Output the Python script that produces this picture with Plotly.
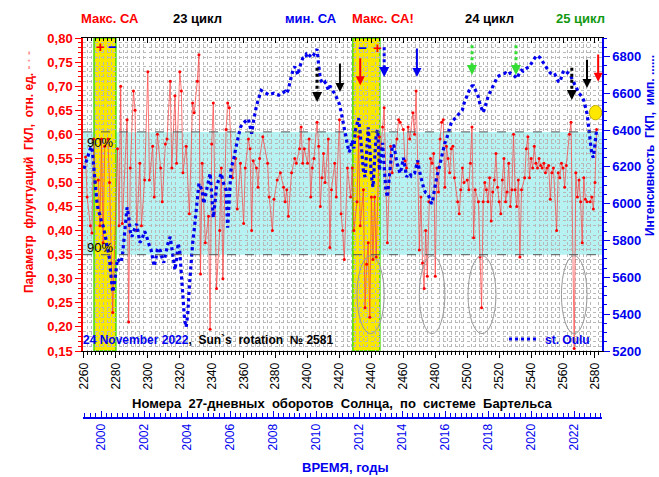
import plotly.graph_objects as go

# --- data ---
rot_red = [2261, 2262, 2264, 2265, 2266, 2267, 2269, 2270, 2271, 2272, 2273, 2275, 2276, 2277, 2278,
           2281, 2282, 2283, 2284, 2287, 2288, 2289, 2291, 2292, 2293, 2295, 2296, 2298, 2300, 2301,
           2303, 2304, 2306, 2308, 2309, 2311, 2312, 2314, 2315, 2317, 2318, 2320, 2321, 2322, 2324,
           2326, 2328, 2329, 2331, 2332, 2333, 2334, 2336, 2338, 2339, 2340, 2341, 2343, 2345, 2346,
           2347, 2349, 2350, 2351, 2353, 2355, 2356, 2358, 2360, 2361, 2363, 2364, 2365, 2366, 2368,
           2369, 2370, 2372, 2375, 2376, 2378, 2379, 2381, 2383, 2385, 2386, 2387, 2388, 2390, 2392,
           2393, 2395, 2396, 2397, 2398, 2400, 2401, 2402, 2403, 2404, 2406, 2407, 2408, 2409, 2410,
           2411, 2413, 2414, 2415, 2417, 2418, 2420, 2421, 2422, 2423, 2425, 2427, 2428, 2429, 2431,
           2432, 2433, 2435, 2436, 2437, 2438, 2439, 2440, 2441, 2442, 2443, 2445, 2446, 2447, 2448,
           2450, 2452, 2453, 2456, 2457, 2458, 2460, 2461, 2462, 2463, 2464, 2466, 2467, 2468, 2469,
           2470, 2471, 2472, 2473, 2474, 2475, 2476, 2477, 2478, 2479, 2480, 2481, 2482, 2483, 2484,
           2485, 2486, 2487, 2488, 2489, 2490, 2491, 2492, 2494, 2495, 2496, 2497, 2498, 2500, 2501,
           2502, 2503, 2504, 2505, 2507, 2508, 2509, 2510, 2511, 2512, 2513, 2514, 2515, 2516, 2517,
           2518, 2519, 2520, 2521, 2522, 2523, 2524, 2525, 2526, 2527, 2528, 2529, 2530, 2531, 2532,
           2533, 2534, 2536, 2537, 2538, 2539, 2540, 2541, 2542, 2543, 2544, 2545, 2546, 2547, 2548,
           2549, 2550, 2551, 2552, 2553, 2554, 2556, 2557, 2558, 2559, 2560, 2561, 2562, 2564, 2565,
           2567, 2568, 2569, 2570, 2571, 2572, 2573, 2574, 2575, 2577, 2578, 2579, 2580, 2581]
gkl = [0.553, 0.47, 0.41, 0.395, 0.59, 0.50, 0.505, 0.41, 0.59, 0.375, 0.575, 0.59, 0.50, 0.333, 0.23,
       0.57, 0.41, 0.70, 0.415, 0.63, 0.21, 0.53, 0.69, 0.65, 0.40, 0.54, 0.41, 0.505, 0.73, 0.505,
       0.575, 0.47, 0.60, 0.53, 0.46, 0.58, 0.59, 0.71, 0.53, 0.68, 0.54, 0.73, 0.69, 0.52, 0.575,
       0.435, 0.665, 0.645, 0.71, 0.765, 0.31, 0.54, 0.375, 0.43, 0.195, 0.58, 0.665, 0.28, 0.40, 0.53,
       0.30, 0.61, 0.665, 0.655, 0.51, 0.55, 0.445, 0.54, 0.415, 0.53, 0.59, 0.57, 0.40, 0.545, 0.53,
       0.49, 0.55, 0.595, 0.54, 0.47, 0.40, 0.465, 0.505, 0.52, 0.49, 0.46, 0.485, 0.43, 0.52, 0.55,
       0.54, 0.57, 0.615, 0.54, 0.57, 0.54, 0.59, 0.47, 0.53, 0.55, 0.625, 0.575, 0.45, 0.51, 0.56,
       0.50, 0.59, 0.365, 0.485, 0.54, 0.47, 0.63, 0.435, 0.40, 0.34, 0.53, 0.47, 0.53, 0.40, 0.46,
       0.595, 0.41, 0.485, 0.24, 0.33, 0.375, 0.22, 0.47, 0.34, 0.47, 0.345, 0.595, 0.57, 0.615, 0.655,
       0.375, 0.575, 0.52, 0.59, 0.63, 0.625, 0.61, 0.545, 0.53, 0.615, 0.59, 0.645, 0.60, 0.69, 0.54,
       0.36, 0.47, 0.333, 0.28, 0.40, 0.305, 0.46, 0.55, 0.54, 0.56, 0.305, 0.53, 0.48, 0.59, 0.625,
       0.63, 0.49, 0.575, 0.55, 0.52, 0.57, 0.575, 0.51, 0.46, 0.435, 0.485, 0.53, 0.50, 0.505, 0.485,
       0.54, 0.615, 0.385, 0.485, 0.46, 0.345, 0.24, 0.46, 0.50, 0.485, 0.46, 0.51, 0.42, 0.48, 0.505,
       0.56, 0.49, 0.46, 0.435, 0.505, 0.55, 0.46, 0.48, 0.54, 0.45, 0.485, 0.60, 0.485, 0.45, 0.505,
       0.345, 0.485, 0.51, 0.57, 0.595, 0.51, 0.55, 0.53, 0.575, 0.54, 0.53, 0.55, 0.535, 0.53, 0.54,
       0.52, 0.53, 0.535, 0.465, 0.52, 0.53, 0.40, 0.52, 0.51, 0.54, 0.53, 0.49, 0.535, 0.60, 0.625,
       0.155, 0.52, 0.47, 0.505, 0.46, 0.375, 0.51, 0.465, 0.46, 0.46, 0.47, 0.445, 0.50, 0.61]

rot_oulu = list(range(2260, 2582))
oulu = [6190, 6220, 6250, 6280, 6300, 6310, 6200, 6080, 6020, 5960,
        5940, 5900, 5880, 5840, 5800, 5760, 5700, 5600, 5520, 5560,
        5640, 5700, 5690, 5680, 5710, 5800, 5900, 5980, 5930, 5850,
        5820, 5850, 5870, 5890, 5840, 5790, 5800, 5820, 5850, 5830,
        5790, 5770, 5750, 5700, 5660, 5700, 5750, 5760, 5740, 5700,
        5680, 5720, 5765, 5800, 5820, 5760, 5680, 5640, 5700, 5785,
        5740, 5600, 5450, 5370, 5330, 5400, 5550, 5680, 5780, 5855,
        5950, 6060, 6110, 6090, 6075, 6000, 6040, 6090, 6130, 6165,
        6050, 5925, 6000, 6090, 6120, 6145, 6165, 6120, 6090, 6075,
        5870, 6000, 6180, 6220, 6250, 6300, 6345, 6380, 6415, 6430,
        6440, 6450, 6455, 6460, 6420, 6380, 6440, 6490, 6530, 6560,
        6590, 6615, 6610, 6605, 6600, 6595, 6590, 6595, 6600, 6600,
        6595, 6590, 6590, 6600, 6600, 6605, 6610, 6600, 6620, 6660,
        6700, 6730, 6745, 6720, 6700, 6740, 6770, 6790, 6800, 6810,
        6790, 6800, 6815, 6820, 6810, 6830, 6840, 6750, 6680, 6660,
        6650, 6660, 6640, 6620, 6640, 6620, 6610, 6600, 6580, 6560,
        6540, 6500, 6450, 6400, 6350, 6320, 6280, 6300, 6345, 6300,
        6400, 6440, 6465, 6380, 6260, 6180, 6145, 6300, 6415, 6300,
        6150, 6090, 6250, 6380, 6400, 6180, 6250, 6330, 6200, 6080,
        6035, 6140, 6200, 6305, 6320, 6260, 6220, 6190, 6165, 6200,
        6250, 6200, 6145, 6160, 6165, 6150, 6160, 6165, 6200, 6235,
        6180, 6145, 6110, 6075, 6060, 6055, 6040, 6010, 6000, 6050,
        6110, 6150, 6180, 6220, 6260, 6290, 6330, 6350, 6380, 6420,
        6440, 6450, 6460, 6470, 6480, 6490, 6500, 6510, 6545, 6570,
        6590, 6610, 6630, 6640, 6640, 6620, 6600, 6580, 6540, 6510,
        6495, 6520, 6560, 6580, 6600, 6620, 6630, 6650, 6670, 6690,
        6695, 6700, 6700, 6705, 6710, 6700, 6705, 6710, 6705, 6700,
        6690, 6680, 6700, 6715, 6725, 6720, 6730, 6735, 6740, 6745,
        6760, 6775, 6790, 6800, 6805, 6800, 6790, 6775, 6760, 6745,
        6730, 6720, 6710, 6700, 6695, 6700, 6680, 6665, 6660, 6690,
        6715, 6725, 6720, 6710, 6700, 6690, 6670, 6650, 6630, 6610,
        6600, 6590, 6580, 6560, 6530, 6490, 6420, 6330, 6270, 6250,
        6330, 6400]

FONT = "Liberation Sans, Arial, sans-serif"
RED, BLUE, GREEN = "#ff0000", "#0000ee", "#119911"

# paper area in pixels (plot area + the extra years axis below)
L, R, T, B = 83, 602, 38, 418
def px(X): return (X - L) / (R - L)
def py(Y): return (B - Y) / (B - T)

fig = go.Figure()
fig.add_trace(go.Scatter(x=rot_red, y=gkl, mode='lines+markers',
                         line=dict(color='rgba(255,60,60,0.7)', width=1),
                         marker=dict(color=RED, size=3), showlegend=False, hoverinfo='skip'))
fig.add_trace(go.Scatter(x=rot_oulu, y=oulu, yaxis='y2', mode='lines',
                         line=dict(color=BLUE, width=3.2, dash='dot'), showlegend=False))
# dummy traces so the extra axes are drawn
fig.add_trace(go.Scatter(x=[2000], y=[None], xaxis='x2', showlegend=False, hoverinfo='skip'))
fig.add_trace(go.Scatter(x=[2300], y=[None], xaxis='x3', showlegend=False, hoverinfo='skip'))

shapes = []
# 90% band
shapes.append(dict(type='rect', xref='x domain', yref='y', x0=0, x1=1, y0=0.35, y1=0.605,
                   fillcolor='#b6f2f2', line_width=0, layer='below'))
# solar maxima bands
for a, b in [(2266.3, 2280.0), (2428.4, 2445.3)]:
    shapes.append(dict(type='rect', xref='x', yref='y domain', x0=a, x1=b, y0=0, y1=1,
                       fillcolor='#f8e800', line=dict(color='#44dd00', width=1.5), layer='below'))
for v in (0.605, 0.35):
    shapes.append(dict(type='line', xref='x domain', yref='y', x0=0, x1=1, y0=v, y1=v,
                       line=dict(color='#555555', width=1, dash='dash')))
# ellipses
for a, b in [(2431, 2448), (2470, 2486), (2500.5, 2518), (2559, 2575)]:
    shapes.append(dict(type='circle', xref='x', yref='y', x0=a, x1=b, y0=0.186, y1=0.348,
                       line=dict(color='#999999', width=1)))
# yellow dot
shapes.append(dict(type='circle', xref='x', yref='y', x0=2576.5, x1=2584.2, y0=0.630, y1=0.660,
                   fillcolor='#ffe800', line=dict(color='#c8b000', width=1)))
# legend line for st. Oulu
shapes.append(dict(type='line', xref='paper', yref='paper', x0=px(509), x1=px(538), y0=py(339), y1=py(339),
                   line=dict(color=BLUE, width=3, dash='dot')))

annotations = []
# arrows: rotation, top value, tip value, colour, dotted?
arrows = [(2406, 0.738, 0.667, 'black', True), (2420.3, 0.750, 0.688, 'black', False),
          (2433, 0.761, 0.702, RED, False), (2448, 0.781, 0.719, BLUE, True),
          (2468.5, 0.781, 0.719, BLUE, False), (2503, 0.785, 0.723, '#33dd33', True),
          (2530.5, 0.785, 0.723, '#33dd33', True), (2565.5, 0.738, 0.671, 'black', True),
          (2575, 0.758, 0.696, 'black', False), (2582, 0.769, 0.709, RED, False)]
for xr, top, tip, col, dotted in arrows:
    if dotted:
        shapes.append(dict(type='line', xref='x', yref='y', x0=xr, x1=xr, y0=top, y1=tip + 0.01,
                           line=dict(color=col, width=3, dash='dot')))
        annotations.append(dict(x=xr, y=tip, xref='x', yref='y', ax=0, ay=-7, showarrow=True,
                                arrowhead=2, arrowsize=1.0, arrowwidth=2, arrowcolor=col, text=''))
    else:
        annotations.append(dict(x=xr, y=tip, xref='x', yref='y', ax=0, ay=-(top - tip) / 0.002075,
                                showarrow=True, arrowhead=2, arrowsize=0.9, arrowwidth=2,
                                arrowcolor=col, text=''))

def label(text, X, Y, color, size=13, bold=True, angle=0, xanchor='center'):
    t = f"<b>{text}</b>" if bold else text
    annotations.append(dict(text=t, x=px(X), y=py(Y), xref='paper', yref='paper', showarrow=False,
                            textangle=angle, xanchor=xanchor, yanchor='middle',
                            font=dict(family=FONT, size=size, color=color)))

label("Макс. СА", 110, 18, RED)
label("23 цикл", 197, 18, 'black')
label("мин. СА", 311, 18, BLUE)
label("Макс. СА!", 383, 18, RED)
label("24 цикл", 489, 18, 'black')
label("25 цикл", 580, 18, GREEN)
label("+", 100, 47, RED, size=15)
label("−", 112, 47, BLUE, size=15)
label("−", 362, 48, BLUE, size=15)
label("+", 377, 48, RED, size=15)
label("90%", 100, 142, 'black', size=13, bold=False)
label("90%", 100, 247, 'black', size=13, bold=False)
label("<span style='color:#0000ee'>24 November 2022</span>,  Sun`s  rotation  № 2581",
      81, 340, 'black', size=12, xanchor='left')
label("st. Oulu", 543, 340, BLUE, size=12, xanchor='left')
label("Параметр  флуктуаций  ГКЛ,  отн. ед. <span style='color:#ff9090'>- · -</span>",
      29, 172, RED, size=12, angle=-90)
label("Интенсивность  ГКП,  имп. ......", 650, 146, BLUE, size=12, angle=-90)
label("Номера  27-дневных  оборотов  Солнца,  по  системе  Бартельса", 342, 403, 'black', size=13)
label("ВРЕМЯ, годы", 345, 467, BLUE, size=13)

grid = dict(showgrid=True, gridcolor='#b8b8b8', griddash='dot', gridwidth=1)
fig.update_layout(
    width=659, height=477,
    margin=dict(l=L, r=659 - R, t=T, b=477 - B),
    paper_bgcolor='white', plot_bgcolor='white',
    separators=', ',
    font=dict(family=FONT, size=12, color='black'),
    shapes=shapes, annotations=annotations,
    xaxis=dict(range=[2259.4, 2584.4], tick0=2260, dtick=20, tickangle=-90,
               ticks='outside', ticklen=6, tickcolor='black', showline=True, linecolor='black',
               tickfont=dict(size=12, color='black'), showgrid=False, zeroline=False,
               minor=dict(dtick=2.5, ticks='outside', ticklen=3, tickcolor='black', **grid)),
    xaxis3=dict(overlaying='x', matches='x', side='top', anchor='y', showticklabels=False,
                ticks='inside', ticklen=5, tickcolor='black', showline=True, linecolor='black',
                showgrid=False, zeroline=False, tick0=2260, dtick=20,
                minor=dict(dtick=2.5, ticks='inside', ticklen=3, tickcolor='black')),
    xaxis2=dict(overlaying='x', anchor='free', position=0, side='bottom',
                range=[1999.16, 2023.3], tick0=2000, dtick=2, tickangle=-90,
                ticks='inside', ticklen=6, tickcolor=BLUE, showline=True, linecolor=BLUE, linewidth=2,
                tickfont=dict(size=12, color=BLUE), showgrid=False, zeroline=False,
                minor=dict(dtick=0.25, ticks='inside', ticklen=4, tickcolor=BLUE)),
    yaxis=dict(domain=[py(351), 1], range=[0.15, 0.80], tick0=0.15, dtick=0.05, tickformat='.2f',
               ticks='outside', ticklen=6, tickcolor=RED, showline=True, linecolor=RED, linewidth=1.5,
               tickfont=dict(size=13, color=RED, weight='bold'),
               showgrid=False, zeroline=False,
               minor=dict(dtick=0.01, ticks='outside', ticklen=3, tickcolor=RED, **grid)),
    yaxis2=dict(overlaying='y', side='right', range=[5200, 6900], tick0=5200, dtick=200,
                ticks='outside', ticklen=6, tickcolor=BLUE, showline=True, linecolor=BLUE, linewidth=1.5,
                tickfont=dict(size=13, color=BLUE, weight='bold'), showgrid=False, zeroline=False,
                minor=dict(dtick=50, ticks='outside', ticklen=3, tickcolor=BLUE)),
)

# the page's default body margin would shift the figure by 8 px
fig.write_html("out.html", config={'displayModeBar': False},
               post_script="document.body.style.margin='0';")
